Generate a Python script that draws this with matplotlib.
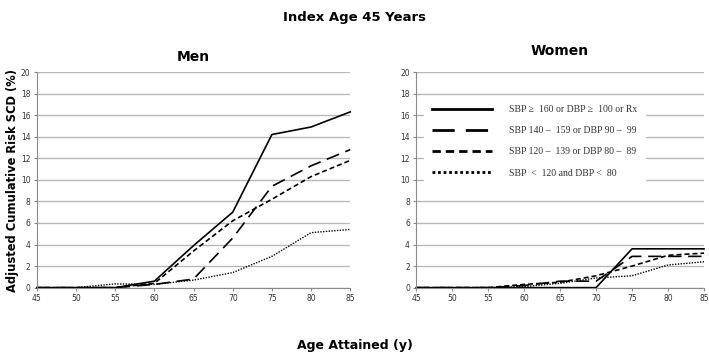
import numpy as np
import matplotlib
matplotlib.use("Agg")
import matplotlib.pyplot as plt
from matplotlib.lines import Line2D

# Age attained (x) and cumulative risk values
ages = [45, 50, 55, 60, 65, 70, 75, 80, 85]

men_high = [0, 0, 0, 0.6, 3.9, 7.0, 14.2, 14.9, 16.3]
men_stage1 = [0, 0, 0, 0.3, 0.8, 4.6, 9.4, 11.3, 12.8]
men_prehyp = [0, 0, 0, 0.4, 3.4, 6.2, 8.2, 10.3, 11.8]
men_normal = [0, 0, 0.35, 0.3, 0.7, 1.4, 2.9, 5.1, 5.4]

women_high = [0, 0, 0, 0, 0, 0, 3.6, 3.6, 3.6]
women_stage1 = [0, 0, 0, 0.2, 0.6, 0.6, 2.9, 2.9, 2.9]
women_prehyp = [0, 0, 0, 0.3, 0.5, 1.1, 2.0, 3.0, 3.2]
women_normal = [0, 0, 0, 0.1, 0.4, 0.9, 1.1, 2.1, 2.4]

labels = ["SBP \u2265  160 or DBP \u2265  100 or Rx",
          "SBP 140 \u2013  159 or DBP 90 \u2013  99",
          "SBP 120 \u2013  139 or DBP 80 \u2013  89",
          "SBP  <  120 and DBP <  80"]

styles = [dict(ls="-", lw=1.2),
          dict(ls=(0, (8, 4)), lw=1.2),
          dict(ls=(0, (3, 1.8)), lw=1.2),
          dict(ls=(0, (1, 1)), lw=1.0)]

fig = plt.figure(figsize=(7.09, 3.6), dpi=100)
ax1 = fig.add_axes([0.052, 0.201, 0.442, 0.599])
ax2 = fig.add_axes([0.587, 0.201, 0.406, 0.599])

def style_axes(ax):
    ax.set_xlim(45, 85)
    ax.set_ylim(0, 20)
    ax.set_xticks(ages)
    ax.set_yticks(np.arange(0, 21, 2))
    ax.grid(axis="y", color="#b8b8b8", lw=1.0)
    ax.set_axisbelow(True)
    for s in ["top", "right"]:
        ax.spines[s].set_visible(False)
    for s in ["left", "bottom"]:
        ax.spines[s].set_color("#8a8a8a")
        ax.spines[s].set_linewidth(0.8)
    ax.tick_params(labelsize=5.5, colors="#8a8a8a", labelcolor="#333333",
                   length=2.5, width=0.8, pad=2)

for ax, series in [(ax1, [men_high, men_stage1, men_prehyp, men_normal]),
                   (ax2, [women_high, women_stage1, women_prehyp, women_normal])]:
    style_axes(ax)
    for vals, st in zip(series, styles):
        ax.plot(ages, vals, color="black", clip_on=False, **st)

ax1.set_title("Men", fontsize=10, fontweight="bold", pad=8)
ax2.set_title("Women", fontsize=10, fontweight="bold", pad=12)

handles = [Line2D([], [], color="black", ls=st["ls"], lw=2.0) for st in styles]
leg = ax2.legend(handles, labels, loc="upper left", bbox_to_anchor=(0.01, 0.905),
                 handlelength=6.2, handletextpad=1.7, labelspacing=1.25,
                 frameon=True, fancybox=False, borderpad=0.8,
                 prop={"family": ["Liberation Serif", "DejaVu Serif"], "size": 7})
leg.get_frame().set_edgecolor("white")
leg.get_frame().set_facecolor("white")
leg.get_frame().set_alpha(1)
for t in leg.get_texts():
    t.set_color("#333333")

fig.text(0.5, 0.95, "Index Age 45 Years", ha="center", va="center",
         fontsize=9.5, fontweight="bold")
fig.text(0.5, 0.04, "Age Attained (y)", ha="center", va="center",
         fontsize=9, fontweight="bold")
fig.text(0.017, 0.5, "Adjusted Cumulative Risk SCD (%)", ha="center", va="center",
         rotation=90, fontsize=8.3, fontweight="bold")

fig.savefig("out.png", dpi=100)
